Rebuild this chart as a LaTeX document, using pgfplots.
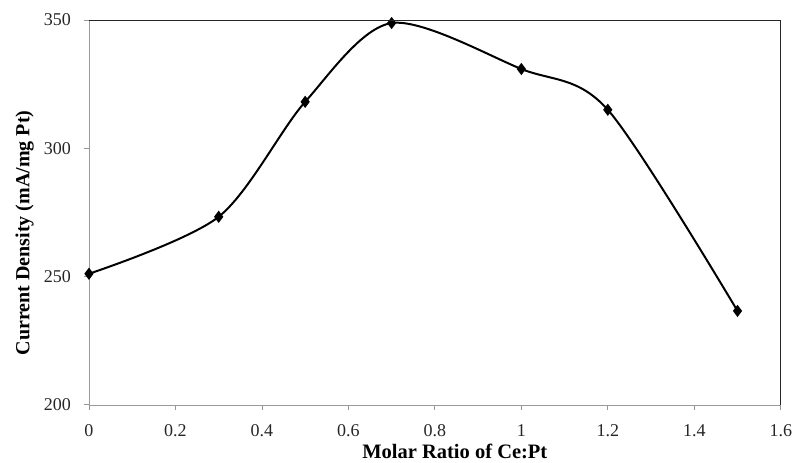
\documentclass[border=0pt]{standalone}
\usepackage{fontspec}
\setmainfont{Liberation Serif}
\usepackage{pgfplots}
\pgfplotsset{compat=1.18}
\begin{document}
\begin{tikzpicture}
\begin{axis}[
  scale only axis,
  width=692bp, height=385bp,
  xmin=0, xmax=1.6, ymin=200, ymax=350,
  xtick={0,0.2,...,1.6},
  ytick={200,250,300,350},
  xticklabels={0,0.2,0.4,0.6,0.8,1,1.2,1.4,1.6},
  axis lines=left,
  axis line style={-, draw=gray!80},
  tick align=outside,
  major tick length=5bp,
  tick style={gray!80, line width=0.8pt},
  ticklabel style={font=\fontsize{18bp}{20bp}\selectfont, text=black!85, inner xsep=0pt},
  xticklabel style={yshift=-11bp},
  yticklabel style={xshift=-13bp},
  /pgf/number format/assume math mode=true,
  xlabel={\textbf{Molar Ratio of Ce:Pt}},
  ylabel={\textbf{Current Density (mA/mg Pt)}},
  xlabel style={font=\fontsize{20.5bp}{22bp}\selectfont, at={(axis description cs:0.5,0)}, anchor=north, yshift=-36bp, xshift=20bp},
  ylabel style={font=\fontsize{20bp}{22bp}\selectfont, at={(axis description cs:-0.093,0.447)}, anchor=center, rotate=0},
  clip=false,
  after end axis/.code={
    \draw[black!85, line width=0.8pt] (rel axis cs:0,1) -- (rel axis cs:1,1) -- (rel axis cs:1,0);
  },
]
\addplot[black, line width=2pt, smooth, mark=diamond*, mark size=4.5bp, mark options={solid}]
coordinates {
(0,251.1) (0.3,273.3) (0.5,318.1) (0.7,348.8) (1.0,330.9) (1.2,315.0) (1.5,236.6)
};
\end{axis}
\path ([shift={(-89bp,-53bp)}]current axis.south west) rectangle ([shift={(11bp,20bp)}]current axis.north east);
\end{tikzpicture}
\end{document}
